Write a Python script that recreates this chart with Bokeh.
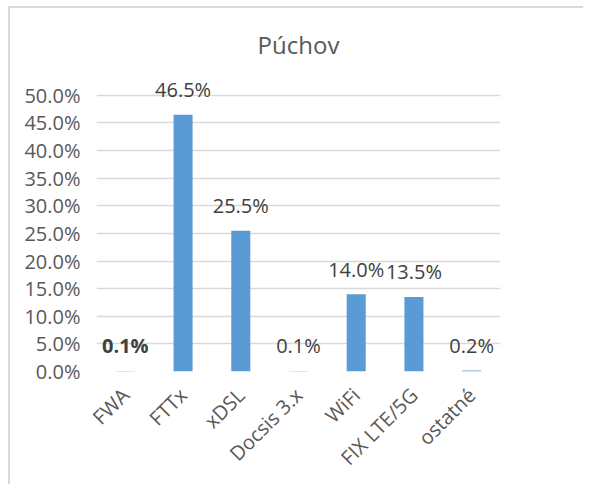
import math
from bokeh.plotting import figure
from bokeh.models import (ColumnDataSource, FactorRange, Range1d, LabelSet, Label,
                          PrintfTickFormatter, FixedTicker)
from bokeh.core.properties import value
from bokeh.embed import file_html
from bokeh.resources import INLINE

categories = ["FWA", "FTTx", "xDSL", "Docsis 3.x", "WiFi", "FIX LTE/5G", "ostatné"]
values = [0.1, 46.5, 25.5, 0.1, 14.0, 13.5, 0.2]
labels = ["0.1%", "46.5%", "25.5%", "0.1%", "14.0%", "13.5%", "0.2%"]
y_ticks = [0, 5, 10, 15, 20, 25, 30, 35, 40, 45, 50]
title_text = "Púchov"

FONT = "Open Sans"
BAR = "#5B9BD5"

bold_idx = [0]
src_norm = ColumnDataSource(dict(
    x=[c for i, c in enumerate(categories) if i not in bold_idx],
    y=[v for i, v in enumerate(values) if i not in bold_idx],
    t=[l for i, l in enumerate(labels) if i not in bold_idx]))
src_bold = ColumnDataSource(dict(
    x=[categories[i] for i in bold_idx],
    y=[values[i] for i in bold_idx],
    t=[labels[i] for i in bold_idx]))
src = ColumnDataSource(dict(x=categories, y=values))

p = figure(x_range=FactorRange(factors=categories, range_padding=0),
           y_range=Range1d(0, 63),
           frame_width=404, frame_height=348,
           min_border_left=86, min_border_right=83,
           min_border_top=15, min_border_bottom=113,
           output_backend="svg", toolbar_location=None,
           background_fill_color="white", border_fill_color="white",
           outline_line_color=None,
           styles={"margin-left": "8px", "margin-top": "6px",
                   "border-left": "2px solid #d9d9d9",
                   "border-top": "2px solid #d9d9d9"})

p.vbar(x="x", top="y", width=0.33, source=src, color=BAR, line_color=None)

# axes
p.yaxis.ticker = FixedTicker(ticks=y_ticks)
p.yaxis.formatter = PrintfTickFormatter(format="%.1f%%")
for ax in (p.xaxis[0], p.yaxis[0]):
    ax.axis_line_color = None
    ax.major_tick_line_color = None
    ax.minor_tick_line_color = None
    ax.major_label_text_font = FONT
    ax.major_label_text_color = "#595959"
p.yaxis.major_label_text_font_size = "20px"
p.xaxis.major_label_text_font_size = "20px"
p.yaxis.major_label_standoff = 10
p.xaxis.major_label_orientation = math.pi / 4
p.xaxis.major_label_standoff = 14

p.xgrid.grid_line_color = None
p.ygrid.grid_line_color = "#d9d9d9"
p.ygrid.grid_line_width = 1.5
p.ygrid.ticker = FixedTicker(ticks=y_ticks)

for s, style in ((src_norm, "normal"), (src_bold, "bold")):
    p.add_layout(LabelSet(x="x", y="y", text="t", source=s, y_offset=25,
                          text_align="center", text_baseline="middle",
                          text_font=value(FONT), text_font_size="20px",
                          text_font_style=style, text_color="#404040"))

p.add_layout(Label(x=len(categories) / 2, y=50, y_offset=51, text=title_text,
                   text_align="center", text_baseline="middle",
                   text_font=FONT, text_font_size="24px", text_color="#595959"))

open("out.html", "w").write(file_html(p, INLINE))
